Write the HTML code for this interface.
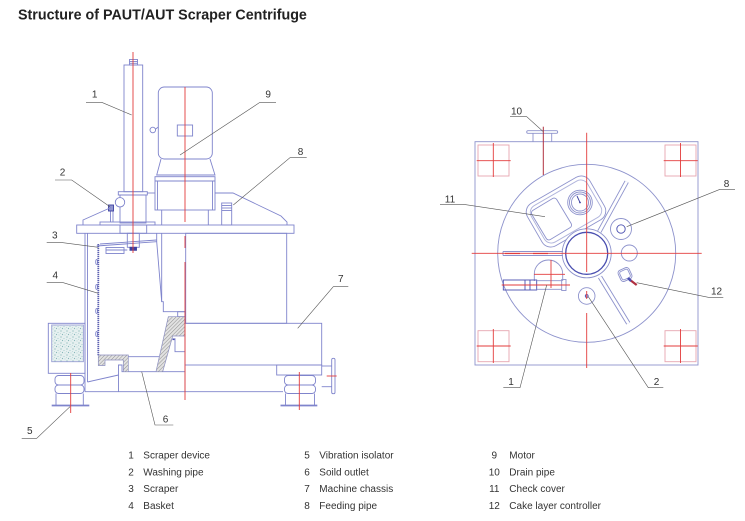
<!DOCTYPE html>
<html>
<head>
<meta charset="utf-8">
<style>
html,body{margin:0;padding:0;background:#fff;}
body{width:745px;height:521px;overflow:hidden;position:relative;}
svg{position:absolute;left:0;top:0;}
</style>
</head>
<body>
<svg width="745" height="521" viewBox="0 0 745 521" xmlns="http://www.w3.org/2000/svg">
<defs>
<pattern id="hatch" width="2.6" height="2.6" patternUnits="userSpaceOnUse" patternTransform="rotate(45)">
<rect width="2.6" height="2.6" fill="#e2e2e2"/>
<line x1="0" y1="0" x2="0" y2="2.6" stroke="#8e8e8e" stroke-width="1"/>
</pattern>
<pattern id="speck" width="6" height="6" patternUnits="userSpaceOnUse">
<rect width="6" height="6" fill="#e6f0f0"/>
<circle cx="1" cy="1" r="0.6" fill="#7fb1b4"/>
<circle cx="4" cy="2.5" r="0.5" fill="#97c3c5"/>
<circle cx="2.5" cy="4.5" r="0.6" fill="#86b7b9"/>
<circle cx="5" cy="5" r="0.45" fill="#a5cdce"/>
<circle cx="0.5" cy="3.5" r="0.4" fill="#9bc4c6"/>
</pattern>
</defs>
<rect width="745" height="521" fill="#fff"/>

<text x="18" y="19.3" font-family="'Liberation Sans', Arial, sans-serif" font-weight="bold" font-size="14.3" fill="#222">Structure of PAUT/AUT Scraper Centrifuge</text>

<!-- ============ LEFT DIAGRAM ============ -->
<g fill="none" stroke="#7f84cc" stroke-width="0.9">
<rect x="124" y="65" width="18.7" height="126.7"/>
<rect x="129.5" y="59.5" width="8" height="5.5"/>
<line x1="129.5" y1="61.5" x2="137.5" y2="61.5"/>
<line x1="129.5" y1="63.3" x2="137.5" y2="63.3"/>
<rect x="118.3" y="191.7" width="29" height="3.3"/>
<rect x="120" y="195" width="26" height="28"/>
<circle cx="120" cy="202.3" r="4.7" fill="#fff"/>
<rect x="100" y="222" width="55" height="3"/>
<line x1="147.3" y1="193" x2="155" y2="193"/>
<line x1="110.5" y1="211" x2="110.5" y2="222"/>
<line x1="113" y1="211" x2="113" y2="222"/>
<rect x="108.5" y="205" width="5" height="6" stroke="#3c40a0" fill="#9095d0"/>
<polyline points="83,225 83,220 111,207.5"/>
<rect x="158.3" y="87" width="54" height="72" rx="6"/>
<rect x="177.3" y="125" width="15.3" height="11"/>
<circle cx="152.8" cy="130" r="2.8"/>
<line x1="155.6" y1="129" x2="158.3" y2="127"/>
<polyline points="161,159 156.7,175 215,175 210,159"/>
<rect x="155" y="176.7" width="60" height="33.3"/>
<line x1="155" y1="181" x2="215" y2="181"/>
<line x1="157.5" y1="181" x2="157.5" y2="210"/>
<line x1="212.5" y1="181" x2="212.5" y2="210"/>
<line x1="161.7" y1="210" x2="161.7" y2="225"/>
<line x1="208.3" y1="210" x2="208.3" y2="225"/>
<polyline points="215,193 233,193 281,216 287,222 287,225"/>
<rect x="221.7" y="203" width="10" height="22"/>
<line x1="221.7" y1="205.5" x2="231.7" y2="205.5"/>
<line x1="221.7" y1="208" x2="231.7" y2="208"/>
<line x1="221.7" y1="210.5" x2="231.7" y2="210.5"/>
<rect x="76.7" y="225" width="217.3" height="8.3"/>
<rect x="120" y="225" width="26.7" height="8.3"/>
<rect x="127.3" y="233.3" width="12" height="14"/>
<rect x="130" y="247.3" width="6.5" height="3" fill="#3c40a0" stroke="#3c40a0"/>
<line x1="85" y1="233.3" x2="85" y2="391.7"/>
<line x1="87.5" y1="233.3" x2="87.5" y2="382"/>
<line x1="87.5" y1="382" x2="118.5" y2="375"/>
<polyline points="118.5,391.7 118.5,365 122,365 122,371.7 128.3,371.7"/>
<line x1="85" y1="391.7" x2="283" y2="391.7"/>
<line x1="128.3" y1="371.7" x2="185" y2="371.7"/>
<line x1="96.7" y1="246" x2="156.7" y2="241.7"/>
<line x1="100" y1="244" x2="156.7" y2="240"/>
<polyline points="156.7,233.3 156.7,241.7 161.7,301.7"/>
<polyline points="161.7,233.3 161.7,301.7 163.3,301.7 163.3,311.7 185,311.7"/>
<line x1="98.3" y1="356.7" x2="163" y2="356.7"/>
<rect x="177.7" y="311.7" width="7.3" height="5"/>
<ellipse cx="96.6" cy="262" rx="0.9" ry="2.4"/>
<ellipse cx="96.6" cy="287" rx="0.9" ry="2.4"/>
<ellipse cx="96.6" cy="311" rx="0.9" ry="2.4"/>
<ellipse cx="96.6" cy="334" rx="0.9" ry="2.4"/>
<rect x="106" y="247.5" width="18" height="6"/>
<line x1="106" y1="250" x2="127.3" y2="250"/>
<rect x="185.7" y="233.3" width="101" height="90"/>
<rect x="185" y="323.3" width="136.7" height="41.7"/>
<rect x="276.7" y="365" width="45" height="10"/>
<line x1="185" y1="336" x2="185" y2="391.7"/>
<polyline points="175,338.3 175,351.7 185,351.7"/>
<rect x="48.3" y="323.3" width="36.7" height="50"/>
<rect x="51.7" y="325" width="31.7" height="36.7" fill="url(#speck)" stroke="#9aa0d4"/>
<rect x="55" y="375.5" width="29" height="9.5" rx="3.5"/>
<rect x="55" y="385" width="29" height="8.5" rx="3.5"/>
<line x1="56" y1="393.5" x2="56" y2="405"/>
<line x1="83.3" y1="393.5" x2="83.3" y2="405"/>
<line x1="51.7" y1="405.5" x2="89.3" y2="405.5" stroke-width="1.8"/>
<rect x="284.5" y="375.5" width="31" height="9.5" rx="3.5"/>
<rect x="284.5" y="385" width="31" height="8.5" rx="3.5"/>
<line x1="285.5" y1="393.5" x2="285.5" y2="405"/>
<line x1="314.5" y1="393.5" x2="314.5" y2="405"/>
<line x1="280.5" y1="405.5" x2="317.3" y2="405.5" stroke-width="1.8"/>
<rect x="331.7" y="358.3" width="3.3" height="35.4" rx="1.5"/>
<line x1="321.7" y1="366" x2="331.7" y2="366"/>
<line x1="321.7" y1="386.7" x2="331.7" y2="386.7"/>
</g>
<line x1="98.3" y1="244" x2="98.3" y2="356" stroke="#5a5fb0" stroke-width="1.8" stroke-dasharray="1.2 0.8"/>
<polygon points="98.3,355 128.3,355 128.3,371.7 123.3,371.7 123.3,360 105,360 105,365.5 98.3,365.5" fill="url(#hatch)" stroke="#8c8fc0" stroke-width="0.7"/>
<polygon points="168.3,316.7 185,316.7 185,336 172.7,336 162.7,371.7 156,371.7" fill="url(#hatch)" stroke="#8c8fc0" stroke-width="0.7"/>
<rect x="172.5" y="338.5" width="2" height="1.6" fill="#4a4fb0"/>

<g stroke="#e33b3b" stroke-width="0.9">
<line x1="133" y1="52" x2="133" y2="253"/>
<line x1="185" y1="87" x2="185" y2="222"/>
<line x1="185" y1="236" x2="185" y2="248"/>
<line x1="185" y1="262" x2="185" y2="400"/>
<line x1="70.7" y1="373" x2="70.7" y2="413"/>
<line x1="299.3" y1="372" x2="299.3" y2="410"/>
<line x1="326.7" y1="376" x2="336.7" y2="376"/>
</g>

<g stroke="#555" stroke-width="0.6" fill="none">
<polyline points="86,102.3 101.7,102.3 131.7,115"/>
<polyline points="276,102.3 260,102.3 180,155"/>
<polyline points="306.7,157.7 290,157.7 233.3,205"/>
<polyline points="55,180 71.7,180 110,206.7"/>
<polyline points="46.7,242.3 60,242.3 98.3,247.3"/>
<polyline points="46.7,282.7 63.3,282.7 98.3,293.3"/>
<polyline points="21.7,438.3 36.7,438.3 70,406.7"/>
<polyline points="173.3,425 155,425 141.7,371.7"/>
<polyline points="348.3,286.7 333.3,286.7 297.7,328.3"/>
</g>
<g font-family="'Liberation Sans', Arial, sans-serif" font-size="10" fill="#333" text-anchor="middle">
<text x="94.7" y="97.5">1</text>
<text x="268.2" y="97.5">9</text>
<text x="300.5" y="155">8</text>
<text x="62.5" y="175.7">2</text>
<text x="54.8" y="238.5">3</text>
<text x="55.3" y="278.5">4</text>
<text x="29.8" y="434">5</text>
<text x="165.5" y="422.5">6</text>
<text x="340.8" y="282">7</text>
</g>

<!-- ============ RIGHT DIAGRAM ============ -->
<g fill="none" stroke="#8d92cc" stroke-width="0.9">
<rect x="475" y="141.7" width="223" height="223.3"/>
<circle cx="586.7" cy="253.3" r="89"/>
<rect x="526.7" y="130.7" width="31" height="2.6" rx="1.3"/>
<line x1="533" y1="133.3" x2="533" y2="141.7"/>
<line x1="551.7" y1="133.3" x2="551.7" y2="141.7"/>
<!-- check cover -->
<rect x="530" y="187" width="72" height="49" rx="10" transform="rotate(-30 566 211.5)"/>
<rect x="533.5" y="190.5" width="65" height="42" rx="8" transform="rotate(-30 566 211.5)" stroke="#b0b4dc"/>
<rect x="537" y="202" width="29" height="34" rx="3" transform="rotate(-31 551.5 219)"/>
<circle cx="580" cy="202.5" r="12.3" fill="#fff"/>
<circle cx="580" cy="202.5" r="10.5"/>
<circle cx="580" cy="202.5" r="8.5"/>
<circle cx="586.7" cy="253.3" r="24.5" fill="#fff"/>
<circle cx="586.7" cy="253.3" r="21" stroke="#4a4fb0" stroke-width="1.3"/>
<circle cx="621" cy="229" r="10.5"/>
<circle cx="621" cy="229" r="4.2" stroke="#4a4fb0"/>
<circle cx="629.3" cy="253" r="8"/>
<circle cx="586.7" cy="296" r="8.3"/>
<circle cx="586.7" cy="296" r="1.4" stroke="#4a4fb0"/>
<rect x="619" y="268.5" width="12" height="12" rx="3" transform="rotate(-25 625 274.5)"/>
<rect x="620.5" y="270" width="9" height="9" rx="2" transform="rotate(-25 625 274.5)"/>
<line x1="503" y1="251.5" x2="563" y2="251.5"/>
<line x1="503" y1="255.5" x2="563" y2="255.5"/>
<line x1="503" y1="251.5" x2="503" y2="255.5"/>
<path d="M534.3,281 L534.3,274 A14.2,14 0 0 1 562.7,274 L562.7,281"/>
<rect x="503.3" y="280" width="33.4" height="10" stroke="#4a4fb0"/>
<line x1="525" y1="280" x2="525" y2="290" stroke="#4a4fb0"/>
<line x1="530" y1="280" x2="530" y2="290" stroke="#4a4fb0"/>
<line x1="536.7" y1="280.7" x2="561.7" y2="280.7"/>
<line x1="536.7" y1="289.3" x2="561.7" y2="289.3"/>
<rect x="561.7" y="279.5" width="4.3" height="11"/>
</g>
<g stroke-linecap="butt">
<line x1="626.7" y1="181.7" x2="599.3" y2="231.7" stroke="#8d92cc" stroke-width="4.6"/>
<line x1="626.7" y1="181.7" x2="599.3" y2="231.7" stroke="#fff" stroke-width="2.8"/>
<line x1="600" y1="277" x2="628.3" y2="323.3" stroke="#8d92cc" stroke-width="4.6"/>
<line x1="600" y1="277" x2="628.3" y2="323.3" stroke="#fff" stroke-width="2.8"/>
</g>
<line x1="580" y1="202.5" x2="577" y2="196" stroke="#3c40a0" stroke-width="0.9"/>
<circle cx="580" cy="202.5" r="0.9" fill="#3c40a0"/>
<line x1="629.5" y1="279.5" x2="636.7" y2="285" stroke="#b03040" stroke-width="2.2"/>
<line x1="628" y1="278" x2="631" y2="281" stroke="#4a4fb0" stroke-width="2.4"/>

<g fill="none" stroke="#e6a6b0" stroke-width="0.9">
<rect x="478" y="145" width="31" height="31"/>
<rect x="665" y="145" width="31" height="31"/>
<rect x="478" y="330.7" width="31" height="31"/>
<rect x="665" y="330.7" width="31" height="31"/>
</g>
<g stroke="#e33b3b" stroke-width="0.9">
<line x1="476.7" y1="160.7" x2="510.7" y2="160.7"/>
<line x1="493.3" y1="143" x2="493.3" y2="177"/>
<line x1="663.7" y1="160.7" x2="697.7" y2="160.7"/>
<line x1="680.5" y1="143" x2="680.5" y2="177"/>
<line x1="476.7" y1="346" x2="510.7" y2="346"/>
<line x1="493.3" y1="329" x2="493.3" y2="363"/>
<line x1="663.7" y1="346" x2="697.7" y2="346"/>
<line x1="680.5" y1="329" x2="680.5" y2="363"/>
<line x1="586.7" y1="132.7" x2="586.7" y2="272"/>
<line x1="586.7" y1="291" x2="586.7" y2="299"/>
<line x1="586.7" y1="313" x2="586.7" y2="368"/>
<line x1="471.7" y1="253.3" x2="701.7" y2="253.3"/>
<line x1="551" y1="260" x2="551" y2="288"/>
<line x1="534" y1="274.3" x2="565" y2="274.3"/>
<line x1="501.7" y1="285" x2="570" y2="285"/>
<line x1="505" y1="253.5" x2="520" y2="253.5" stroke-width="1.2"/>
<line x1="533" y1="253.5" x2="548" y2="253.5" stroke-width="1.2"/>
</g>
<line x1="543.3" y1="126.7" x2="543.3" y2="175" stroke="#b03040" stroke-width="1"/>

<g stroke="#555" stroke-width="0.6" fill="none">
<polyline points="510,116.7 526.7,116.7 543.3,131.7"/>
<polyline points="440,204.3 463.3,204.3 545,216.7"/>
<polyline points="735,189.3 720,189.3 626.7,226.7"/>
<polyline points="723.3,297.3 708.3,297.3 636.7,282.7"/>
<polyline points="663.3,387.7 648.3,387.7 588.3,296.7"/>
<polyline points="503.3,387.7 520,387.7 546.7,285"/>
</g>
<g font-family="'Liberation Sans', Arial, sans-serif" font-size="10" fill="#333" text-anchor="middle">
<text x="516.5" y="114.5">10</text>
<text x="450" y="202.7">11</text>
<text x="726.5" y="187">8</text>
<text x="716.5" y="294.5">12</text>
<text x="656.5" y="385">2</text>
<text x="511" y="385">1</text>
</g>

<!-- ============ LEGEND ============ -->
<g font-family="'Liberation Sans', Arial, sans-serif" font-size="10" fill="#333">
<g text-anchor="middle">
<text x="131" y="458.5">1</text>
<text x="131" y="475.3">2</text>
<text x="131" y="492">3</text>
<text x="131" y="508.8">4</text>
<text x="307" y="458.5">5</text>
<text x="307" y="475.3">6</text>
<text x="307" y="492">7</text>
<text x="307" y="508.8">8</text>
<text x="494.3" y="458.5">9</text>
<text x="494.3" y="475.3">10</text>
<text x="494.3" y="492">11</text>
<text x="494.3" y="508.8">12</text>
</g>
<text x="143.3" y="458.5">Scraper device</text>
<text x="143.3" y="475.3">Washing pipe</text>
<text x="143.3" y="492">Scraper</text>
<text x="143.3" y="508.8">Basket</text>
<text x="319.3" y="458.5">Vibration isolator</text>
<text x="319.3" y="475.3">Soild outlet</text>
<text x="319.3" y="492">Machine chassis</text>
<text x="319.3" y="508.8">Feeding pipe</text>
<text x="509.3" y="458.5">Motor</text>
<text x="509.3" y="475.3">Drain pipe</text>
<text x="509.3" y="492">Check cover</text>
<text x="509.3" y="508.8">Cake layer controller</text>
</g>
</svg>
</body>
</html>
